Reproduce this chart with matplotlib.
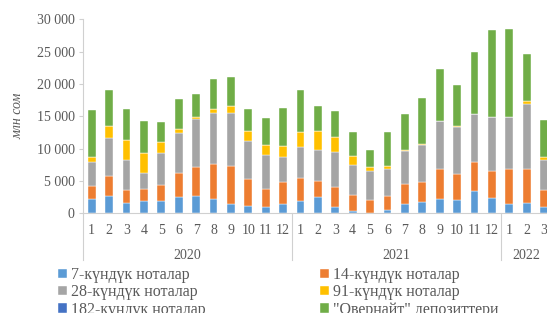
import matplotlib
matplotlib.use("Agg")
import matplotlib.pyplot as plt
import matplotlib.transforms as mtransforms
import numpy as np

# Ай жана жыл белгилери
months = [str(m) for m in range(1, 13)] * 2 + ["1", "2", "3"]
years = ["2020", "2021", "2022"]
year_counts = [12, 12, 3]

# Серияларды сүрөттөн окулган маанилер (млн сом)
notes_7 = [2160, 2630, 1600, 1910, 1960, 2580, 2730, 2160, 1390, 1130, 930, 1440,
           1960, 2470, 930, 310, 100, 460, 1440, 1700, 2220, 2060, 3510, 2420,
           1390, 1550, 930]
notes_14 = [2120, 3090, 2060, 1900, 2470, 3610, 4380, 5520, 5930, 4230, 2880, 3460,
            3560, 2580, 3140, 2470, 1960, 2270, 3040, 3090, 4640, 3970, 4480, 4180,
            5470, 5310, 2630]
notes_28 = [3710, 5880, 4540, 2480, 4850, 6280, 7430, 7840, 8200, 5880, 5260, 3860,
            4790, 4800, 5360, 4640, 4540, 4070, 5210, 5830, 7370, 7370, 7320, 8300,
            8090, 10100, 4640]
notes_91 = [720, 1850, 3090, 3040, 1700, 570, 410, 670, 1030, 1490, 1550, 1600,
            2220, 2830, 2370, 1450, 560, 470, 100, 100, 100, 50, 0, 0,
            0, 460, 560]
notes_182 = [0] * 27
overnight = [7220, 5570, 4840, 5000, 3090, 4640, 3500, 4530, 4530, 3350, 4170, 5880,
             6540, 3970, 4020, 3660, 2690, 5360, 5570, 7120, 8040, 6340, 9590, 13400,
             13610, 7170, 5670]

series = [
    ("7-күндүк ноталар", notes_7, "#5B9BD5"),
    ("14-күндүк ноталар", notes_14, "#ED7D31"),
    ("28-күндүк ноталар", notes_28, "#A5A5A5"),
    ("91-күндүк ноталар", notes_91, "#FFC000"),
    ("182-күндүк ноталар", notes_182, "#4472C4"),
    ('"Овернайт" депозиттери', overnight, "#70AD47"),
]

plt.rcParams["font.family"] = ["Liberation Serif", "DejaVu Serif"]
text_col = "#595959"
line_col = "#D0D0D0"

fig = plt.figure(figsize=(5.47, 3.13), dpi=100)
ax = fig.add_axes([83 / 547, (313 - 213.3) / 313, 469.7 / 547, 194 / 313])

x = np.arange(len(months))
bottom = np.zeros(len(months))
handles = {}
for name, vals, col in series:
    vals = np.array(vals, dtype=float)
    b = ax.bar(x, vals, width=0.45, bottom=bottom, color=col,
               edgecolor="#ffffff", linewidth=0.3, label=name)
    handles[name] = b
    bottom += vals

ax.set_xlim(-0.5, len(months) - 0.5)
ax.set_ylim(0, 30000)
ax.set_yticks(range(0, 30001, 5000))
ax.set_yticklabels([f"{v:,}".replace(",", " ") for v in range(0, 30001, 5000)])
ax.set_xticks(x)
ax.set_xticklabels(months)
ax.tick_params(axis="x", length=0, pad=8, labelsize=10, colors=text_col)
ax.tick_params(axis="y", length=3, width=0.8, pad=3, labelsize=10,
               colors=text_col, color=line_col)

for s in ["top", "right"]:
    ax.spines[s].set_visible(False)
ax.spines["left"].set_color(line_col)
ax.spines["bottom"].set_color(line_col)

ax.set_ylabel("млн сом", fontsize=10, style="italic", color=text_col)
ax.yaxis.set_label_coords(-0.125, 0.5)

# Жыл белгилери жана бөлгүчтөр
trans = mtransforms.blended_transform_factory(ax.transData, ax.transAxes)
start = -0.5
for yr, n in zip(years, year_counts):
    ax.plot([start, start], [0, -0.24], transform=trans, color=line_col,
            lw=0.8, clip_on=False)
    ax.text(start + n / 2, -0.215, yr, transform=trans, ha="center", va="center",
            fontsize=10, color=text_col)
    start += n

order = ["7-күндүк ноталар", "28-күндүк ноталар", "182-күндүк ноталар",
         "14-күндүк ноталар", "91-күндүк ноталар", '"Овернайт" депозиттери']
fig.legend([handles[k] for k in order], order, ncol=2, loc="upper left",
           bbox_to_anchor=(50 / 547, 1 - 259 / 313), frameon=False,
           fontsize=11.5, handlelength=0.55, handleheight=0.55,
           handletextpad=0.25, columnspacing=7.2, labelspacing=0.08,
           borderpad=0, labelcolor=text_col)

fig.savefig("out.png", dpi=100)
